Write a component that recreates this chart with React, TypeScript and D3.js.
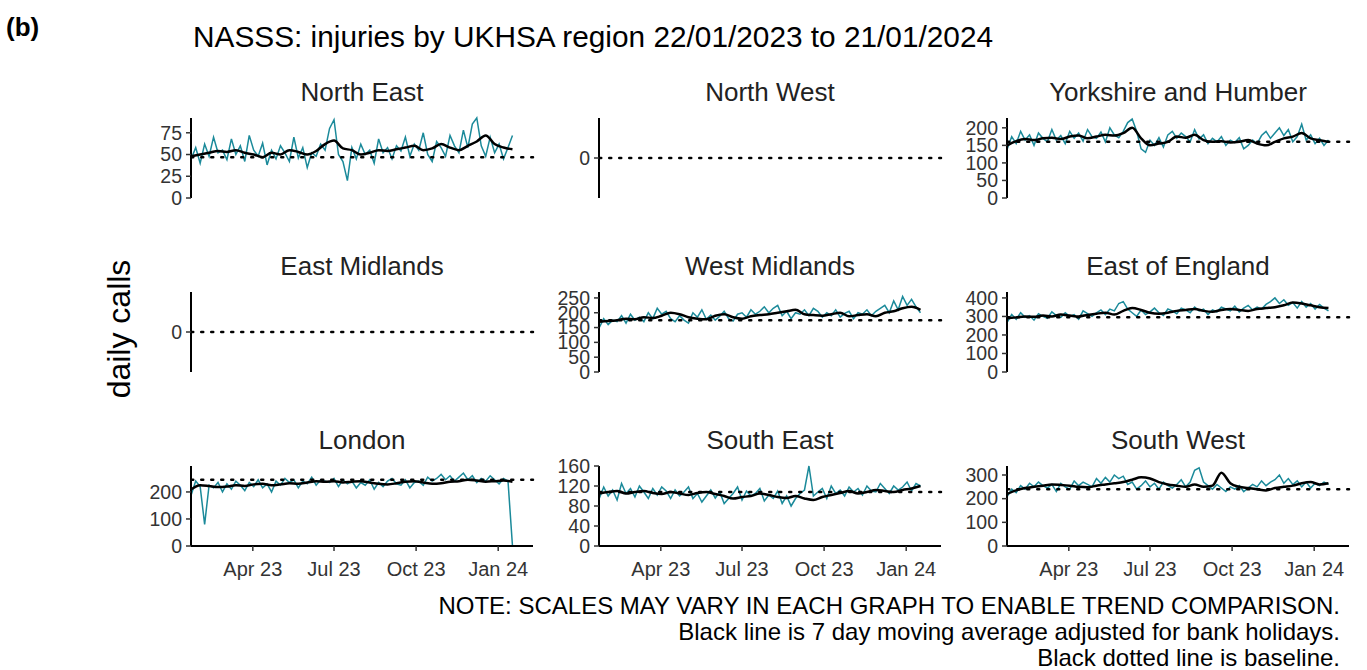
import React from "react";
import * as d3 from "d3";

// teal daily calls sampled every 5 days from 22/01/2023; black 7-day average every 10 days
const START = new Date(2023, 0, 22);
const regions = ["North East", "North West", "Yorkshire and Humber", "East Midlands", "West Midlands", "East of England", "London", "South East", "South West"];
const baselines = [47, 0, 160, 0, 175, 295, 245, 108, 240];
const yMaxes = [92, 0, 228, 0, 270, 432, 296, 160, 338];
const yTicks = [[0, 25, 50, 75], [0], [0, 50, 100, 150, 200], [0], [0, 50, 100, 150, 200, 250], [0, 100, 200, 300, 400], [0, 100, 200], [0, 40, 80, 120, 160], [0, 100, 200, 300]];
const tealSeries: number[][] = [
  [45,58,40,62,48,70,52,55,44,68,50,60,42,72,55,48,63,38,55,45,60,52,42,70,46,58,35,52,48,62,55,80,90,50,42,20,58,45,62,50,55,40,68,52,58,45,60,54,70,48,62,55,75,50,42,65,58,48,72,60,52,78,58,85,92,60,48,70,52,62,45,58,72],
  [],
  [140,175,155,190,165,180,150,185,170,160,195,165,178,155,190,170,185,162,195,175,170,188,160,200,180,172,190,215,225,190,140,130,165,150,172,145,180,190,170,185,175,160,195,168,180,155,170,160,175,150,165,158,172,140,150,165,155,178,190,170,185,200,178,195,160,175,210,165,180,155,170,150,165],
  [],
  [150,180,160,175,170,190,165,195,175,185,170,200,180,215,195,205,180,170,190,175,165,200,185,210,178,192,175,188,205,180,172,195,200,185,210,195,205,220,200,215,225,190,205,180,200,195,210,190,215,205,185,200,190,210,185,198,205,180,200,195,210,190,205,215,225,200,240,210,255,225,245,220,200],
  [270,310,285,320,295,305,280,315,300,290,325,305,295,320,300,310,285,330,315,300,320,335,310,340,330,370,380,340,320,300,335,310,325,345,320,305,340,330,315,345,335,320,350,330,340,310,335,325,350,340,330,355,325,345,360,335,350,340,365,380,400,370,390,360,375,345,380,350,370,340,365,345,330],
  [190,240,220,80,225,215,235,200,230,210,240,225,205,235,220,245,215,230,200,240,225,250,235,245,215,240,230,255,225,245,240,235,250,220,245,230,240,215,235,225,245,210,235,220,240,250,230,225,245,215,235,240,225,255,240,250,265,245,260,240,255,270,245,260,235,250,240,260,245,230,250,240,0],
  [95,118,100,112,92,125,105,115,98,120,108,95,115,102,118,110,95,112,100,108,118,95,105,88,100,112,96,108,85,95,105,118,92,110,100,105,115,90,102,95,110,85,100,80,95,105,112,160,100,108,115,95,120,105,112,100,118,108,115,102,120,110,108,125,115,105,120,112,118,128,110,125,120],
  [210,240,225,255,240,265,250,270,255,245,260,230,265,250,240,275,255,270,260,250,285,265,290,270,300,285,295,260,270,240,255,275,250,265,240,270,255,245,260,280,250,270,320,330,270,255,240,260,245,230,250,240,255,230,245,260,250,275,255,270,280,300,265,285,260,275,250,270,245,265,255,270,260],
];
const avgSeries: number[][] = [
  [48,50,52,54,53,55,52,50,47,52,50,55,53,50,54,62,66,57,55,50,52,55,54,56,58,60,55,57,62,58,55,60,65,72,62,58,56],
  [],
  [150,162,168,165,170,172,168,175,178,170,175,180,178,185,200,170,150,155,160,175,172,180,165,160,162,158,160,165,155,150,160,170,175,185,170,165,160],
  [],
  [170,172,175,180,178,185,182,190,200,195,185,180,178,190,195,185,180,188,192,195,200,205,210,195,192,190,195,200,188,192,195,188,200,205,215,220,210],
  [290,295,300,298,305,300,310,305,300,308,315,320,310,330,345,335,320,315,320,330,335,340,330,325,335,340,335,330,340,345,350,360,375,370,360,350,345],
  [210,225,222,218,220,225,222,228,230,225,228,232,230,235,240,238,240,235,238,240,235,230,228,232,238,240,235,230,232,238,240,245,242,238,240,242,238],
  [105,108,110,105,108,110,106,104,108,105,102,106,108,104,100,95,98,100,105,102,98,96,100,95,92,98,102,106,110,105,108,112,110,108,112,115,120],
  [220,235,245,250,255,260,258,255,250,248,255,260,265,270,280,290,285,270,260,255,250,260,250,255,310,265,250,245,240,235,245,250,255,265,270,260,265],
];
const xTickDates = [new Date(2023, 3, 1), new Date(2023, 6, 1), new Date(2023, 9, 1), new Date(2024, 0, 1)];
const xTickLabels = ["Apr 23", "Jul 23", "Oct 23", "Jan 24"];
const notes = [
  "NOTE: SCALES MAY VARY IN EACH GRAPH TO ENABLE TREND COMPARISON.",
  "Black line is 7 day moving average adjusted for bank holidays.",
  "Black dotted line is baseline.",
];

const addDays = (n: number) => new Date(START.getTime() + n * 86400000);
const FONT = "Arial, 'Liberation Sans', sans-serif";

export default function App() {
  const colX = [185, 593, 1001];
  const rowTop = [118, 292, 466];
  const ph = 80;
  const x0 = d3.scaleTime().domain([new Date(2023, 0, 15), new Date(2024, 1, 9)]).range([0, 348]);

  return (
    <svg width={1367} height={670} style={{ position: "absolute", left: 0, top: 0 }} fontFamily={FONT}>
      <text x={6} y={36} fontSize={26} fontWeight="bold">(b)</text>
      <text x={193} y={47} fontSize={29.8}>NASSS: injuries by UKHSA region 22/01/2023 to 21/01/2024</text>
      <text transform="translate(130,329) rotate(-90)" textAnchor="middle" fontSize={32}>daily calls</text>
      {regions.map((name, i) => {
        const c = i % 3, r = Math.floor(i / 3);
        const ox = colX[c], oy = rowTop[r];
        const empty = tealSeries[i].length === 0;
        const y = empty
          ? d3.scaleLinear().domain([-1, 1]).range([ph, 0])
          : d3.scaleLinear().domain([0, yMaxes[i]]).range([ph, 0]);
        const line = d3.line<number>().x((_, k) => x0(addDays(k * 5))).y((v) => y(v));
        const avg = d3.line<number>().x((_, k) => x0(addDays(k * 10))).y((v) => y(v)).curve(d3.curveMonotoneX);
        return (
          <g key={name} transform={`translate(${ox},${oy})`}>
            <text x={177} y={-17} textAnchor="middle" fontSize={26} fill="#222">{name}</text>
            <path d={line(tealSeries[i]) || ""} fill="none" stroke="#1b8a9a" strokeWidth={1.5} />
            <line x1={x0(START)} x2={348} y1={y(baselines[i])} y2={y(baselines[i])} stroke="#000" strokeWidth={2.5} strokeDasharray="2 8" strokeLinecap="round" />
            <path d={avg(avgSeries[i]) || ""} fill="none" stroke="#000" strokeWidth={2.5} />
            <line x1={6} x2={6} y1={0} y2={ph} stroke="#000" strokeWidth={2} />
            {yTicks[i].map((t) => (
              <g key={t} transform={`translate(6,${y(t)})`}>
                <line x1={-5} x2={0} stroke="#333" strokeWidth={1.5} />
                <text x={-9} dy="0.35em" textAnchor="end" fontSize={19.5} fill="#333">{t}</text>
              </g>
            ))}
            {r === 2 && (
              <g transform={`translate(0,${ph})`}>
                <line x1={6} x2={348} stroke="#000" strokeWidth={2} />
                {xTickDates.map((d, k) => (
                  <g key={k} transform={`translate(${x0(d)},0)`}>
                    <line y2={5} stroke="#333" strokeWidth={1.5} />
                    <text y={30} textAnchor="middle" fontSize={20} fill="#333">{xTickLabels[k]}</text>
                  </g>
                ))}
              </g>
            )}
          </g>
        );
      })}
      {notes.map((n, k) => (
        <text key={k} x={1340} y={614 + k * 26} textAnchor="end" fontSize={24}>{n}</text>
      ))}
    </svg>
  );
}
